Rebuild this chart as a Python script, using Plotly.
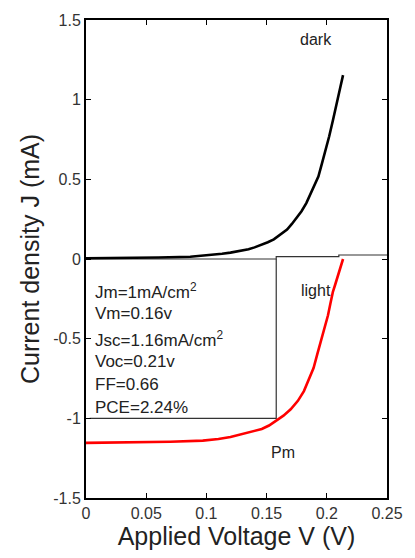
import plotly.graph_objects as go

# Data
dark_v = [0.0, 0.03, 0.06, 0.0866, 0.095, 0.105, 0.113, 0.12, 0.128, 0.135, 0.14, 0.146, 0.151, 0.156, 0.161,
          0.167, 0.171, 0.175, 0.179, 0.183, 0.188, 0.19, 0.193, 0.196, 0.199, 0.202, 0.205, 0.209, 0.211, 0.2135]
dark_j = [0.005, 0.006, 0.009, 0.014, 0.019, 0.026, 0.033, 0.04, 0.05, 0.061, 0.073, 0.088, 0.105, 0.123, 0.15,
          0.185, 0.22, 0.26, 0.3, 0.351, 0.43, 0.46, 0.517, 0.6, 0.682, 0.77, 0.868, 0.993, 1.07, 1.154]

light_v = [0.0, 0.02, 0.0516, 0.07, 0.097, 0.11, 0.12, 0.13, 0.14, 0.146, 0.152, 0.158, 0.164, 0.170, 0.176,
           0.181, 0.185, 0.189, 0.192, 0.195, 0.198, 0.201, 0.203, 0.205, 0.207, 0.210, 0.2135]
light_j = [-1.154, -1.153, -1.150, -1.147, -1.14, -1.13, -1.117, -1.098, -1.083, -1.067, -1.045, -1.015, -0.983,
           -0.943, -0.89, -0.829, -0.76, -0.684, -0.6, -0.519, -0.435, -0.353, -0.28, -0.208, -0.16, -0.09, 0.0]

vm = 0.158
jm = -1.0

x_ticks = [0, 0.05, 0.1, 0.15, 0.2, 0.25]
x_tick_text = ["0", "0.05", "0.1", "0.15", "0.2", "0.25"]
y_ticks = [-1.5, -1, -0.5, 0, 0.5, 1, 1.5]
y_tick_text = ["-1.5", "-1", "-0.5", "0", "0.5", "1", "1.5"]

info_lines = ["Jm=1mA/cm<sup>2</sup>", "Vm=0.16v", "Jsc=1.16mA/cm<sup>2</sup>",
              "Voc=0.21v", "FF=0.66", "PCE=2.24%"]

FONT = "Liberation Sans, Arial, sans-serif"

fig = go.Figure()

# baseline / rectangle lines
fig.add_trace(go.Scatter(x=[0, vm, vm, 0.21, 0.21, 0.25], y=[0, 0, 0.015, 0.015, 0.025, 0.025],
                         mode="lines", line=dict(color="#333", width=1.2), hoverinfo="skip", showlegend=False))
fig.add_trace(go.Scatter(x=[vm, vm, 0.003], y=[0, jm, jm],
                         mode="lines", line=dict(color="#333", width=1.2), hoverinfo="skip", showlegend=False))

fig.add_trace(go.Scatter(x=dark_v, y=dark_j, mode="lines", line=dict(color="black", width=2.6),
                         showlegend=False))
fig.add_trace(go.Scatter(x=light_v, y=light_j, mode="lines", line=dict(color="red", width=2.6),
                         showlegend=False))

ann = []
ann.append(dict(x=0.191, y=1.375, text="dark", showarrow=False, font=dict(size=16, color="#222", family=FONT)))
ann.append(dict(x=0.191, y=-0.196, text="light", showarrow=False, font=dict(size=16, color="#222", family=FONT)))
ann.append(dict(x=0.164, y=-1.214, text="Pm", showarrow=False, font=dict(size=16, color="#222", family=FONT)))
ys = [-0.202, -0.345, -0.5, -0.643, -0.786, -0.935]
for t, yy in zip(info_lines, ys):
    ann.append(dict(x=0.006, y=yy, text=t, showarrow=False, xanchor="left",
                    font=dict(size=17, color="#222", family=FONT)))

fig.update_layout(
    width=415, height=558, autosize=False,
    margin=dict(l=86, r=19, t=15, b=60),
    paper_bgcolor="white", plot_bgcolor="white",
    font=dict(family=FONT, color="#222"),
    annotations=ann,
    xaxis=dict(range=[0, 0.25], tickvals=x_ticks, ticktext=x_tick_text, ticks="inside", ticklen=5,
               tickcolor="black", showline=True, linecolor="black", linewidth=2, mirror="ticks",
               showgrid=False, zeroline=False, tickfont=dict(size=16, color="#333"),
               title=dict(text="Applied Voltage V (V)", font=dict(size=25, color="#222"), standoff=6)),
    yaxis=dict(range=[-1.5, 1.5], tickvals=y_ticks, ticktext=y_tick_text, ticks="inside", ticklen=5,
               tickcolor="black", showline=True, linecolor="black", linewidth=2, mirror="ticks",
               showgrid=False, zeroline=False, tickfont=dict(size=16, color="#333"),
               title=dict(text="Current density J (mA)", font=dict(size=25, color="#222"), standoff=6)),
)

fig.write_html("out.html")
